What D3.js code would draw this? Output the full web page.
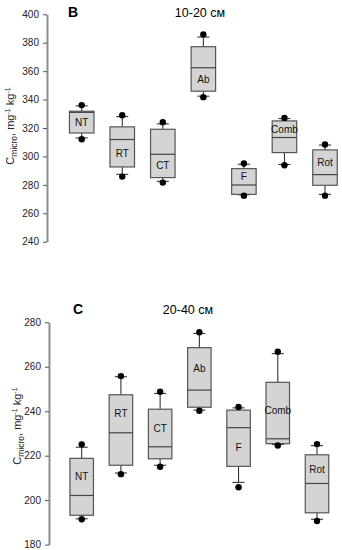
<!DOCTYPE html>
<html>
<head>
<meta charset="utf-8">
<script src="https://cdn.jsdelivr.net/npm/d3@7"></script>
<style>
    body { margin: 0; background: #fff; }
    svg text { font-family: "Liberation Sans", Arial, sans-serif; }
</style>
</head>
<body>
<svg id="chart" width="342" height="550"></svg>
<script>
// treatments
var categories = ["NT", "RT", "CT", "Ab", "F", "Comb", "Rot"];

// 10-20 cm: dot low, whisker low, q1, median, q3, whisker high, dot high
var b_dotLo  = [312.1, 285.8, 281.6, 341.7, 272.4, 293.8, 272.4];
var b_whisLo = [313.0, 287.4, 282.5, 342.4, 273.0, 294.3, 273.3];
var b_q1     = [316.5, 292.6, 285.1, 345.9, 273.3, 302.7, 279.7];
var b_median = [331.0, 311.9, 301.5, 362.4, 279.9, 313.3, 287.2];
var b_q3     = [331.8, 320.8, 319.1, 377.2, 291.4, 325.0, 304.6];
var b_whisHi = [335.6, 328.0, 322.9, 384.0, 294.5, 326.6, 308.0];
var b_dotHi  = [336.1, 329.0, 324.1, 385.9, 295.0, 327.1, 308.4];
var b_labelHalf = ["low", "low", "low", "low", "up", "up", "up"];
var b_ticks  = [240, 260, 280, 300, 320, 340, 360, 380, 400];

// 20-40 cm
var c_dotLo  = [191.4, 211.7, 215.0, 240.2, 205.8, 224.6, 190.6];
var c_whisLo = [191.6, 212.2, 215.7, 240.5, 208.0, 225.0, 191.4];
var c_q1     = [193.2, 215.7, 218.6, 241.8, 215.2, 225.4, 194.3];
var c_median = [202.1, 230.3, 224.0, 249.5, 232.6, 227.6, 207.5];
var c_q3     = [218.8, 247.4, 240.9, 268.6, 240.5, 253.0, 220.4];
var c_whisHi = [223.8, 255.5, 248.0, 275.0, 241.5, 265.9, 224.5];
var c_dotHi  = [225.1, 255.8, 248.8, 275.5, 241.9, 266.8, 225.2];
var c_labelHalf = ["up", "up", "up", "up", "low", "up", "up"];
var c_ticks  = [180, 200, 220, 240, 260, 280];

var svg = d3.select("#chart");

function rows(lo, wl, q1, med, q3, wh, hi, half) {
    return categories.map(function(c, i) {
        return {name: c, dotLo: lo[i], whisLo: wl[i], q1: q1[i], median: med[i],
                q3: q3[i], whisHi: wh[i], dotHi: hi[i], half: half[i]};
    });
}

function drawPanel(opt) {
    var g = svg.append("g");
    var y = d3.scaleLinear().domain(opt.domain).range([opt.bottom, opt.top]);
    var x = d3.scalePoint().domain(categories).range([opt.firstX, opt.lastX]);
    var bw = opt.boxWidth;

    // axis
    var axis = g.append("g")
        .attr("transform", "translate(" + opt.axisX + ",0)")
        .call(d3.axisLeft(y).tickValues(opt.ticks).tickSize(4).tickPadding(4).tickSizeOuter(0));
    axis.select(".domain").attr("stroke", "#8c8c8c").attr("stroke-width", 2);
    axis.selectAll(".tick line").attr("stroke", "#555");
    axis.selectAll(".tick text").attr("font-size", 10).attr("fill", "#222")
        .attr("font-family", "Liberation Sans, Arial, sans-serif");

    var box = g.selectAll(".box").data(opt.data).enter().append("g")
        .attr("class", "box")
        .attr("transform", function(d) { return "translate(" + x(d.name) + ",0)"; });

    // whiskers
    box.append("line")
        .attr("x1", 0).attr("x2", 0)
        .attr("y1", function(d) { return y(d.q3); })
        .attr("y2", function(d) { return y(d.whisHi); })
        .attr("stroke", "#222");
    box.append("line")
        .attr("x1", 0).attr("x2", 0)
        .attr("y1", function(d) { return y(d.q1); })
        .attr("y2", function(d) { return y(d.whisLo); })
        .attr("stroke", "#222");
    // caps
    box.append("line")
        .attr("x1", -6).attr("x2", 6)
        .attr("y1", function(d) { return y(d.whisHi); })
        .attr("y2", function(d) { return y(d.whisHi); })
        .attr("stroke", "#222");
    box.append("line")
        .attr("x1", -6).attr("x2", 6)
        .attr("y1", function(d) { return y(d.whisLo); })
        .attr("y2", function(d) { return y(d.whisLo); })
        .attr("stroke", "#222");

    box.append("rect")
        .attr("x", -bw / 2).attr("width", bw)
        .attr("y", function(d) { return y(d.q3); })
        .attr("height", function(d) { return y(d.q1) - y(d.q3); })
        .attr("fill", "#d4d4d4")
        .attr("stroke", "#555")
        .attr("stroke-width", 1.2);

    box.append("line")
        .attr("x1", -bw / 2).attr("x2", bw / 2)
        .attr("y1", function(d) { return y(d.median); })
        .attr("y2", function(d) { return y(d.median); })
        .attr("stroke", "#444")
        .attr("stroke-width", 1.2);

    // outlier dots
    box.append("circle")
        .attr("cy", function(d) { return y(d.dotHi); })
        .attr("r", 3.2).attr("fill", "#000");
    box.append("circle")
        .attr("cy", function(d) { return y(d.dotLo); })
        .attr("r", 3.2).attr("fill", "#000");

    // treatment label, centred in the upper or lower half of the box
    box.append("text")
        .attr("text-anchor", "middle")
        .attr("font-size", 10)
        .attr("fill", "#111")
        .attr("dy", "0.35em")
        .attr("y", function(d) {
            return d.half === "up" ? (y(d.q3) + y(d.median)) / 2 : (y(d.median) + y(d.q1)) / 2;
        })
        .text(function(d) { return d.name; });

    // panel letter and depth
    g.append("text")
        .attr("x", opt.letterX).attr("y", opt.titleY)
        .attr("font-size", 14).attr("font-weight", "bold")
        .text(opt.letter);
    g.append("text")
        .attr("x", opt.titleX).attr("y", opt.titleY)
        .attr("text-anchor", "middle")
        .attr("font-size", 12.5)
        .text(opt.title);

    // y label
    var lab = g.append("text")
        .attr("transform", "translate(" + opt.labelX + "," + opt.labelY + ") rotate(-90)")
        .attr("text-anchor", "middle")
        .attr("font-size", 11)
        .attr("fill", "#222");
    lab.append("tspan").text("C");
    lab.append("tspan").attr("font-size", 8.5).attr("dy", 3).text("micro");
    lab.append("tspan").attr("dy", -3).text(", mg");
    lab.append("tspan").attr("font-size", 7).attr("dy", -4).text("-1");
    lab.append("tspan").attr("dy", 4).text(" kg");
    lab.append("tspan").attr("font-size", 7).attr("dy", -4).text("-1");
}

drawPanel({
    data: rows(b_dotLo, b_whisLo, b_q1, b_median, b_q3, b_whisHi, b_dotHi, b_labelHalf),
    domain: [240, 400], ticks: b_ticks,
    top: 14.3, bottom: 241.7, axisX: 47,
    firstX: 81.7, lastX: 325, boxWidth: 24.5,
    letter: "B", letterX: 68, title: "10-20 см", titleX: 200, titleY: 17,
    labelX: 14, labelY: 126
});

drawPanel({
    data: rows(c_dotLo, c_whisLo, c_q1, c_median, c_q3, c_whisHi, c_dotHi, c_labelHalf),
    domain: [180, 280], ticks: c_ticks,
    top: 322.3, bottom: 544.6, axisX: 49,
    firstX: 81.7, lastX: 317, boxWidth: 23.5,
    letter: "C", letterX: 73, title: "20-40 см", titleX: 188, titleY: 314,
    labelX: 21, labelY: 426
});
</script>
</body>
</html>
